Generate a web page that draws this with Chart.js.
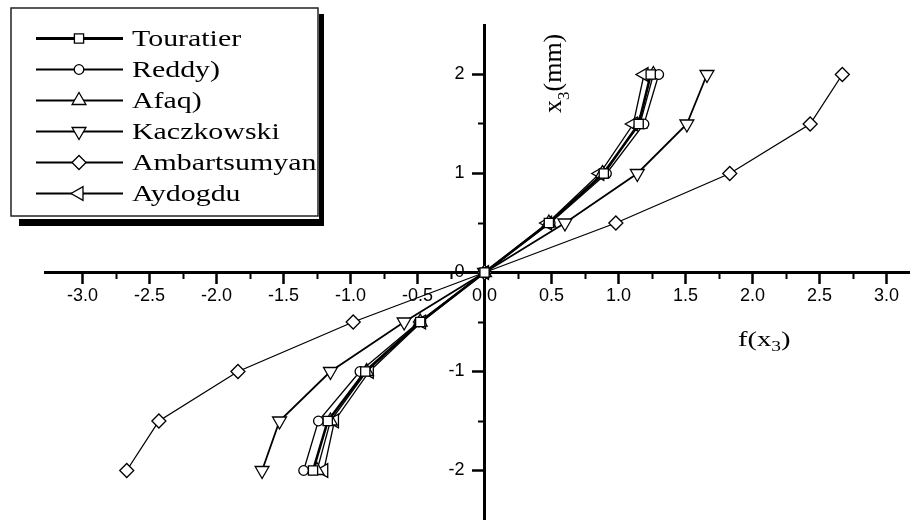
<!DOCTYPE html>
<html>
<head>
<meta charset="utf-8">
<script src="https://cdn.jsdelivr.net/npm/chart.js@4.4.1/dist/chart.umd.min.js"></script>
<style>
    html, body { margin: 0; padding: 0; background: #fff; }
    #wrap { width: 910px; height: 520px; }
</style>
</head>
<body>
<div id="wrap"><canvas id="grafico"></canvas></div>
<script>
/* DADOS */
const niveis = [-2, -1.5, -1, -0.5, 0, 0.5, 1, 1.5, 2];

const touratier    = [-1.28, -1.17, -0.89, -0.48, 0, 0.48, 0.89, 1.15, 1.24];
const reddy        = [-1.35, -1.24, -0.93, -0.49, 0, 0.49, 0.91, 1.19, 1.30];
const afaq         = [-1.25, -1.15, -0.88, -0.48, 0, 0.48, 0.88, 1.16, 1.26];
const kaczkowski   = [-1.66, -1.53, -1.15, -0.60, 0, 0.60, 1.14, 1.51, 1.66];
const ambartsumyan = [-2.67, -2.43, -1.84, -0.98, 0, 0.98, 1.83, 2.43, 2.67];
const aydogdu      = [-1.20, -1.12, -0.86, -0.47, 0, 0.47, 0.86, 1.11, 1.19];

const nomes = ['Touratier', 'Reddy)', 'Afaq)', 'Kaczkowski', 'Ambartsumyan', 'Aydogdu'];

const xMaiores = [-3, -2.5, -2, -1.5, -1, -0.5, 0, 0.5, 1, 1.5, 2, 2.5, 3];
const xMenores = [-2.75, -2.25, -1.75, -1.25, -0.75, -0.25, 0.25, 0.75, 1.25, 1.75, 2.25, 2.75];
const yMaiores = [-2, -1, 0, 1, 2];
const yMenores = [-1.5, -0.5, 0.5, 1.5];

const tituloX = ['f(x', '3', ')'];
const tituloY = ['x', '3', '(mm)'];

/* SERIES */
function serie(nome, valores, estilo, raio, rot, largura) {
    return {
        label: nome,
        data: valores.map((v, i) => ({ x: v, y: niveis[i] })),
        showLine: true,
        borderColor: '#000',
        backgroundColor: '#fff',
        borderWidth: largura,
        pointStyle: estilo,
        pointRadius: raio,
        pointHoverRadius: raio,
        pointRotation: rot,
        pointBorderWidth: 1.3,
        pointBackgroundColor: '#fff',
        pointBorderColor: '#000',
        tension: 0,
        xAxisID: 'x',
        yAxisID: 'y'
    };
}

const series = [
    serie(nomes[0], touratier, 'rect', 6.5, 0, 2.6),
    serie(nomes[1], reddy, 'circle', 4.8, 0, 1.3),
    serie(nomes[2], afaq, 'triangle', 8, 0, 1.3),
    serie(nomes[3], kaczkowski, 'triangle', 8, 180, 1.8),
    serie(nomes[4], ambartsumyan, 'rectRot', 7, 0, 1.3),
    serie(nomes[5], aydogdu, 'triangle', 8, -90, 1.3)
];

/* MARCADOR */
function marcador(ctx, ds, x, y) {
    ctx.save();
    ctx.fillStyle = '#fff';
    ctx.strokeStyle = '#000';
    ctx.lineWidth = 1.3;
    Chart.helpers.drawPoint(ctx, {
        pointStyle: ds.pointStyle,
        radius: ds.pointRadius,
        rotation: ds.pointRotation,
        borderWidth: 1.3
    }, x, y);
    ctx.restore();
}

/* LEGENDA + TITULOS */
const extras = {
    id: 'extras',
    afterDraw(chart) {
        const ctx = chart.ctx;
        const esq = 11, topo = 8, dir = 318, baixo = 216;

        ctx.save();
        ctx.fillStyle = '#000';
        ctx.fillRect(19, baixo + 3, dir - 14, 7);
        ctx.fillRect(dir + 1, topo + 6, 5, baixo - topo + 4);
        ctx.fillStyle = '#fff';
        ctx.fillRect(esq, topo, dir - esq, baixo - topo);
        ctx.strokeStyle = '#222';
        ctx.lineWidth = 1.5;
        ctx.strokeRect(esq, topo, dir - esq, baixo - topo);

        chart.data.datasets.forEach((ds, i) => {
            const y = 38.5 + i * 31;
            ctx.beginPath();
            ctx.strokeStyle = '#000';
            ctx.lineWidth = ds.borderWidth > 2 ? 3 : 1.8;
            ctx.moveTo(36, y);
            ctx.lineTo(123, y);
            ctx.stroke();
            marcador(ctx, ds, 79, y);

            ctx.save();
            ctx.scale(1.3, 1);
            ctx.fillStyle = '#000';
            ctx.font = '23px "Liberation Serif"';
            ctx.textBaseline = 'alphabetic';
            ctx.fillText(ds.label, 132 / 1.3, y + 7.5);
            ctx.restore();
        });

        // titulo eixo x
        ctx.save();
        ctx.translate(738, 346);
        ctx.scale(1.3, 1);
        ctx.fillStyle = '#000';
        ctx.font = '22px "Liberation Serif"';
        let p = 0;
        ctx.fillText(tituloX[0], p, 0);
        p += ctx.measureText(tituloX[0]).width;
        ctx.font = '15px "Liberation Serif"';
        ctx.fillText(tituloX[1], p, 5);
        p += ctx.measureText(tituloX[1]).width;
        ctx.font = '22px "Liberation Serif"';
        ctx.fillText(tituloX[2], p, 0);
        ctx.restore();

        // titulo eixo y
        ctx.save();
        ctx.translate(561, 113);
        ctx.rotate(-Math.PI / 2);
        ctx.fillStyle = '#000';
        ctx.font = '26px "Liberation Serif"';
        p = 0;
        ctx.fillText(tituloY[0], p, 0);
        p += ctx.measureText(tituloY[0]).width;
        ctx.font = '17px "Liberation Serif"';
        ctx.fillText(tituloY[1], p, 8);
        p += ctx.measureText(tituloY[1]).width;
        ctx.font = '26px "Liberation Serif"';
        ctx.fillText(tituloY[2], p, 0);
        ctx.restore();

        ctx.restore();
    }
};

/* GRAFICO */
const fonteTicks = { family: '"Liberation Sans", Arial, sans-serif', size: 18 };
const semPadding = s => { s.paddingLeft = 0; s.paddingRight = 0; s.paddingTop = 0; s.paddingBottom = 0; };

new Chart(document.getElementById('grafico'), {
    type: 'scatter',
    data: { datasets: series },
    options: {
        responsive: true,
        maintainAspectRatio: false,
        animation: false,
        layout: { autoPadding: false, padding: { left: 45, top: 25, right: 0, bottom: 0 } },
        plugins: {
            legend: { display: false },
            tooltip: { enabled: false }
        },
        scales: {
            x: {
                type: 'linear',
                min: -3.28,
                max: 3.175,
                position: { y: 0 },
                afterBuildTicks: s => { s.ticks = xMaiores.map(v => ({ value: v })); },
                afterFit: semPadding,
                grid: { drawOnChartArea: false, drawTicks: true, tickLength: 10, tickWidth: 2.5, tickColor: '#000' },
                border: { display: true, color: '#000', width: 3 },
                ticks: { color: '#000', font: fonteTicks, padding: 3, autoSkip: false, maxRotation: 0, callback: v => v.toFixed(1) }
            },
            xm: {
                type: 'linear',
                axis: 'x',
                min: -3.28,
                max: 3.175,
                position: { y: 0 },
                afterBuildTicks: s => { s.ticks = xMenores.map(v => ({ value: v })); },
                afterFit: semPadding,
                grid: { drawOnChartArea: false, drawTicks: true, tickLength: 6, tickWidth: 2, tickColor: '#000' },
                border: { display: false },
                ticks: { display: false }
            },
            y: {
                type: 'linear',
                min: -2.5,
                max: 2.5,
                position: { x: 0 },
                afterBuildTicks: s => { s.ticks = yMaiores.map(v => ({ value: v })); },
                afterFit: semPadding,
                grid: { drawOnChartArea: false, drawTicks: true, tickLength: 11, tickWidth: 2.5, tickColor: '#000' },
                border: { display: true, color: '#000', width: 3 },
                ticks: { color: '#000', font: fonteTicks, padding: 0, autoSkip: false, callback: v => String(v) + '    ' }
            },
            ym: {
                type: 'linear',
                axis: 'y',
                min: -2.5,
                max: 2.5,
                position: { x: 0 },
                afterBuildTicks: s => { s.ticks = yMenores.map(v => ({ value: v })); },
                afterFit: semPadding,
                grid: { drawOnChartArea: false, drawTicks: true, tickLength: 7, tickWidth: 2, tickColor: '#000' },
                border: { display: false },
                ticks: { display: false }
            }
        }
    },
    plugins: [extras]
});
</script>
</body>
</html>
